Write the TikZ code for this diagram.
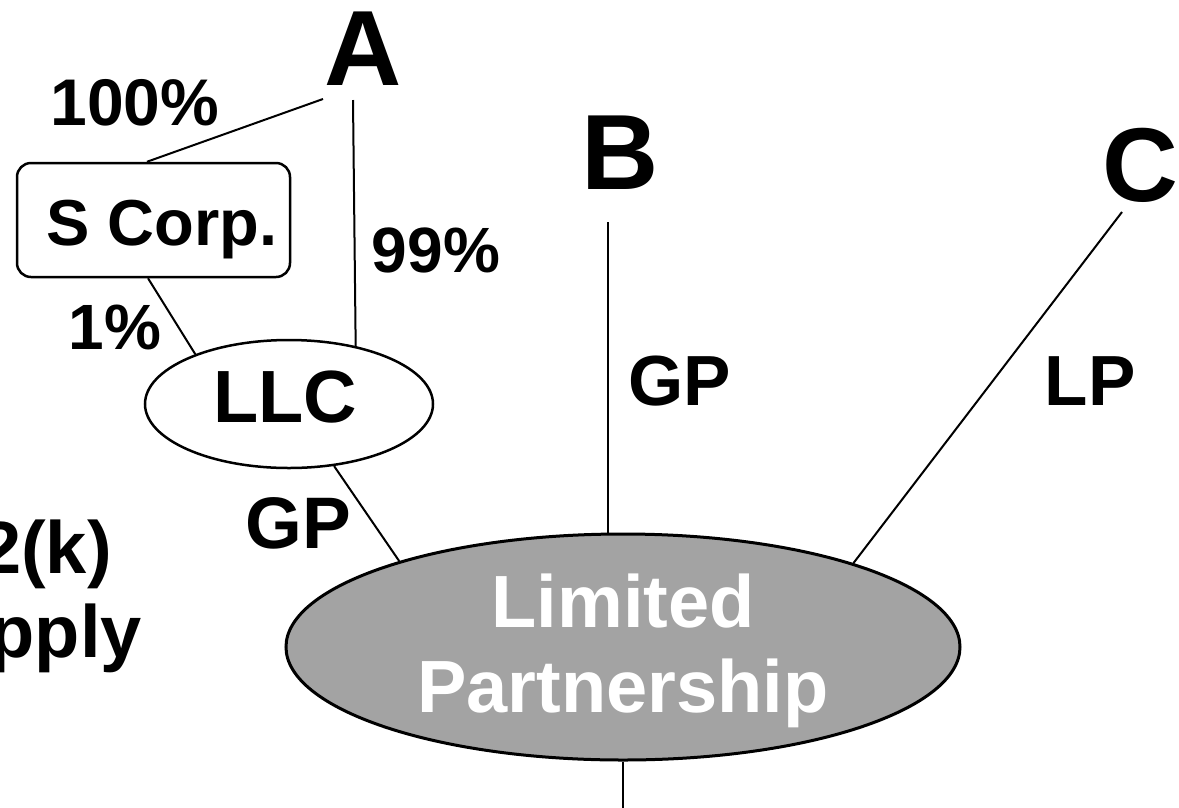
\documentclass[tikz,border=0pt]{standalone}
\usepackage{fontspec}
\setmainfont{Liberation Sans}
\usetikzlibrary{shapes.geometric}
\begin{document}
\begin{tikzpicture}[x=1pt,y=-1pt,
  lbl/.style={font=\fontsize{#1}{#1}\selectfont\bfseries, inner sep=0pt, anchor=base},
  conn/.style={line width=2pt},
]
\useasboundingbox (0,0) rectangle (1179,807);
% shapes
\node[draw, line width=2.5pt, rounded corners=14pt, minimum width=273pt, minimum height=114pt, inner sep=0pt] (scorp) at (153.5,220) {};
\node[draw, ellipse, line width=2.5pt, minimum width=288pt, minimum height=128pt, inner sep=0pt] (llc) at (289,404) {};
\node[draw, ellipse, line width=3pt, fill=black!36, minimum width=674pt, minimum height=226pt, inner sep=0pt] (lp) at (623,647) {};
% texts
\node[lbl=107] (A) at (363,85) {A};
\node[lbl=107] (B) at (620,189) {B};
\node[lbl=105] (C) at (1140,201) {C};
\node[lbl=66] (p100) at (135,125) {100\%};
\node[lbl=65] (scorplbl) at (162,245) {S Corp.};
\node[lbl=64] (p99) at (436,272) {99\%};
\node[lbl=64] (p1) at (115,349) {1\%};
\node[lbl=74] (llclbl) at (285,422) {LLC};
\node[lbl=73] (gp1) at (298,548) {GP};
\node[lbl=71] (gp2) at (680,405) {GP};
\node[lbl=71] (lplbl) at (1090,405) {LP};
\node[lbl=74, text=white] (lim) at (623,627) {Limited};
\node[lbl=74, text=white] (part) at (623,712) {Partnership};
\node[lbl=74, anchor=base east] (sec) at (112,573) {2(k)};
\node[lbl=74, anchor=base east] (apply) at (142,657) {pply};
% connector ends
\coordinate (a1) at (323,99);
\coordinate (a2) at (353,100);
\coordinate (b1) at (608,222);
\coordinate (c1) at (1122,212);
\coordinate (bot) at (623,810);
% connectors
\draw[conn] (a1) -- ([xshift=-6.5pt]scorp.north);
\draw[conn] (a2) -- (llc.41.7);
\draw[conn] ([xshift=-5.5pt]scorp.south) -- (llc.152.3);
\draw[conn] (llc.-54) -- (lp.159.4);
\draw[conn] (b1) -- (b1 |- lp.north);
\draw[conn] (c1) -- (lp.20.5);
\draw[conn] (lp.south) -- (bot);
\end{tikzpicture}
\end{document}
